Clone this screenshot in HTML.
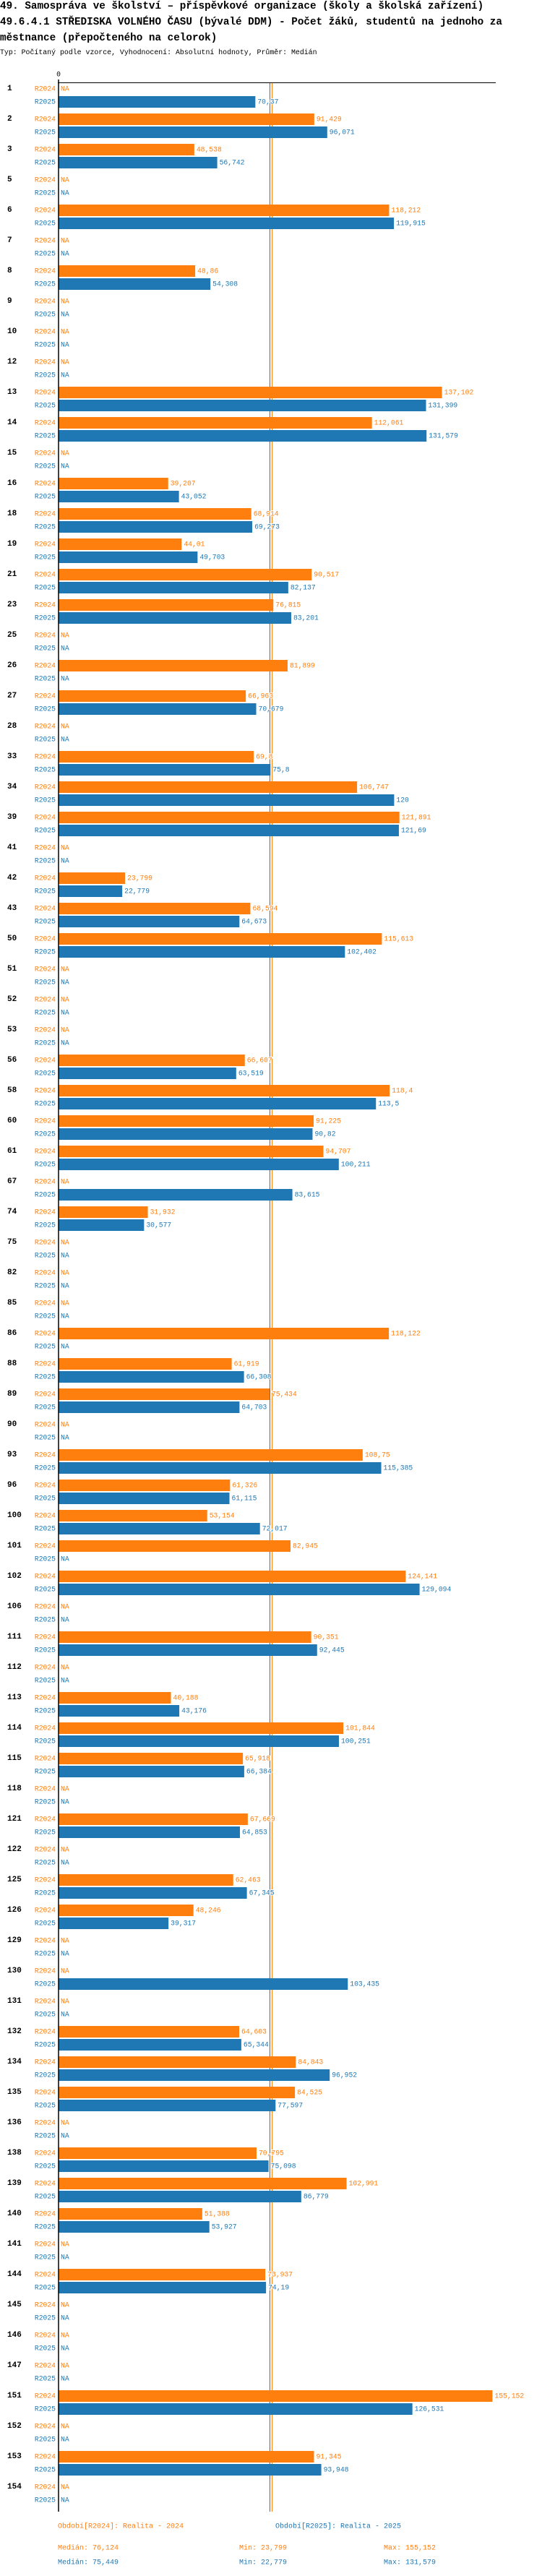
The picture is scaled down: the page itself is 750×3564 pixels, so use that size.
<!DOCTYPE html>
<html><head><meta charset="utf-8">
<style>
html,body{margin:0;padding:0;background:#fff;}
body{width:750px;height:3564px;position:relative;overflow:hidden;font-family:"Liberation Mono",monospace;}
.t{position:absolute;left:0;white-space:nowrap;color:#000;}
</style></head>
<body>
<div class="t" style="top:0px;font-size:14.3px;font-weight:bold;line-height:18px;">49. Samospráva ve školství – příspěvkové organizace (školy a školská zařízení)</div>
<div class="t" style="top:22px;font-size:14.3px;font-weight:bold;line-height:18px;">49.6.4.1 STŘEDISKA VOLNÉHO ČASU (bývalé DDM) - Počet žáků, studentů na jednoho za</div>
<div class="t" style="top:44px;font-size:14.3px;font-weight:bold;line-height:18px;">městnance (přepočteného na celorok)</div>
<div class="t" style="top:67px;font-size:9.9px;line-height:12px;">Typ: Počítaný podle vzorce, Vyhodnocení: Absolutní hodnoty, Průměr: Medián</div>
<svg id="chart" width="750" height="3564" style="position:absolute;left:0;top:0;" xmlns="http://www.w3.org/2000/svg"></svg>
<script>
const categories = ["1","2","3","5","6","7","8","9","10","12","13","14","15","16","18","19","21","23","25","26","27","28","33","34","39","41","42","43","50","51","52","53","56","58","60","61","67","74","75","82","85","86","88","89","90","93","96","100","101","102","106","111","112","113","114","115","118","121","122","125","126","129","130","131","132","134","135","136","138","139","140","141","144","145","146","147","151","152","153","154"];
const values2024 = [null,91.429,48.538,null,118.212,null,48.86,null,null,null,137.102,112.061,null,39.207,68.914,44.01,90.517,76.815,null,81.899,66.963,null,69.8,106.747,121.891,null,23.799,68.594,115.613,null,null,null,66.607,118.4,91.225,94.707,null,31.932,null,null,null,118.122,61.919,75.434,null,108.75,61.326,53.154,82.945,124.141,null,90.351,null,40.188,101.844,65.918,null,67.669,null,62.463,48.246,null,null,null,64.603,84.843,84.525,null,70.795,102.991,51.388,null,73.937,null,null,null,155.152,null,91.345,null];
const values2025 = [70.37,96.071,56.742,null,119.915,null,54.308,null,null,null,131.399,131.579,null,43.052,69.273,49.703,82.137,83.201,null,null,70.679,null,75.8,120,121.69,null,22.779,64.673,102.402,null,null,null,63.519,113.5,90.82,100.211,83.615,30.577,null,null,null,null,66.308,64.703,null,115.385,61.115,72.017,null,129.094,null,92.445,null,43.176,100.251,66.384,null,64.853,null,67.345,39.317,null,103.435,null,65.344,96.952,77.597,null,75.098,86.779,53.927,null,74.19,null,null,null,126.531,null,93.948,null];
const seriesNames = ["R2024","R2025"];
const medians = [76.124, 75.449];
const mins = [23.799, 22.779];
const maxs = [155.152, 131.579];

const NS = "http://www.w3.org/2000/svg";
const svg = document.getElementById("chart");
const C = ["#ff7f0e", "#1f77b4"];
const X0 = 81, SCALE = 3.87, Y0 = 123, PITCH = 42;
const xs = v => X0 + v * SCALE;
const yc = i => Y0 + i * PITCH;
const fmt = v => String(v).replace(".", ",");
function mk(tag, attrs) { const e = document.createElementNS(NS, tag); for (const k in attrs) e.setAttribute(k, attrs[k]); svg.appendChild(e); return e; }
function txt(x, y, s, fill, size, weight, anchor) {
  const e = mk("text", {x: x, y: y, fill: fill, "font-size": size, "font-family": "Liberation Mono, monospace", "dominant-baseline": "central"});
  if (weight) e.setAttribute("font-weight", weight);
  if (anchor) e.setAttribute("text-anchor", anchor);
  e.textContent = s; return e;
}
const series = [values2024, values2025];
const yBottom = yc(categories.length - 1) + 34;

// median lines (behind)
[1, 0].forEach(s => {
  const x = Math.round(xs(medians[s])) + 0.5;
  const l = mk("line", {x1: x, x2: x, y1: 114, y2: yBottom, stroke: C[s], "stroke-width": 1});
  
  
});

categories.forEach((c, i) => {
  const y = yc(i);
  const cl = txt(10, y, c, "#000", 11, "bold");
  
  
  series.forEach((arr, s) => {
    const cy = y + s * 18;
    const sl = txt(77, cy, seriesNames[s], C[s], 9.7, null, "end");
    
    
    const v = arr[i];
    if (v === null) {
      const na = txt(84, cy, "NA", C[s], 9.7);
      
      
    } else {
      const b = mk("rect", {x: X0, y: cy - 8, width: xs(v) - X0, height: 16, fill: C[s]});
      
      
      const vl = txt(xs(v) + 3, cy, fmt(v), C[s], 9.7);
      vl.setAttribute("stroke", "#fff"); vl.setAttribute("stroke-width", "2"); vl.setAttribute("paint-order", "stroke");
      
      
    }
  });
});

// axes
const ax = mk("line", {x1: X0 - 1, x2: 686, y1: 114.5, y2: 114.5, stroke: "#000", "stroke-width": 1});


const ay = mk("line", {x1: X0, x2: X0, y1: 110, y2: yBottom, stroke: "#000", "stroke-width": 1.5});


const zl = txt(X0, 103, "0", "#000", 9.7, null, "middle");



// footer legend / stats
const legendText = ["Období[R2024]: Realita - 2024", "Období[R2025]: Realita - 2025"];
const lx = [80, 381];
legendText.forEach((t, s) => {
  const e = txt(lx[s], 3496, t, C[s], 10);
  
  
});
[0, 1].forEach(s => {
  const y = 3526 + s * 20;
  const m = txt(80, y, "Medián: " + fmt(medians[s]), C[s], 10);
  
  
  const mi = txt(331, y, "Min: " + fmt(mins[s]), C[s], 10);
  
  
  const ma = txt(531, y, "Max: " + fmt(maxs[s]), C[s], 10);
  
  
});
</script>
</body></html>
